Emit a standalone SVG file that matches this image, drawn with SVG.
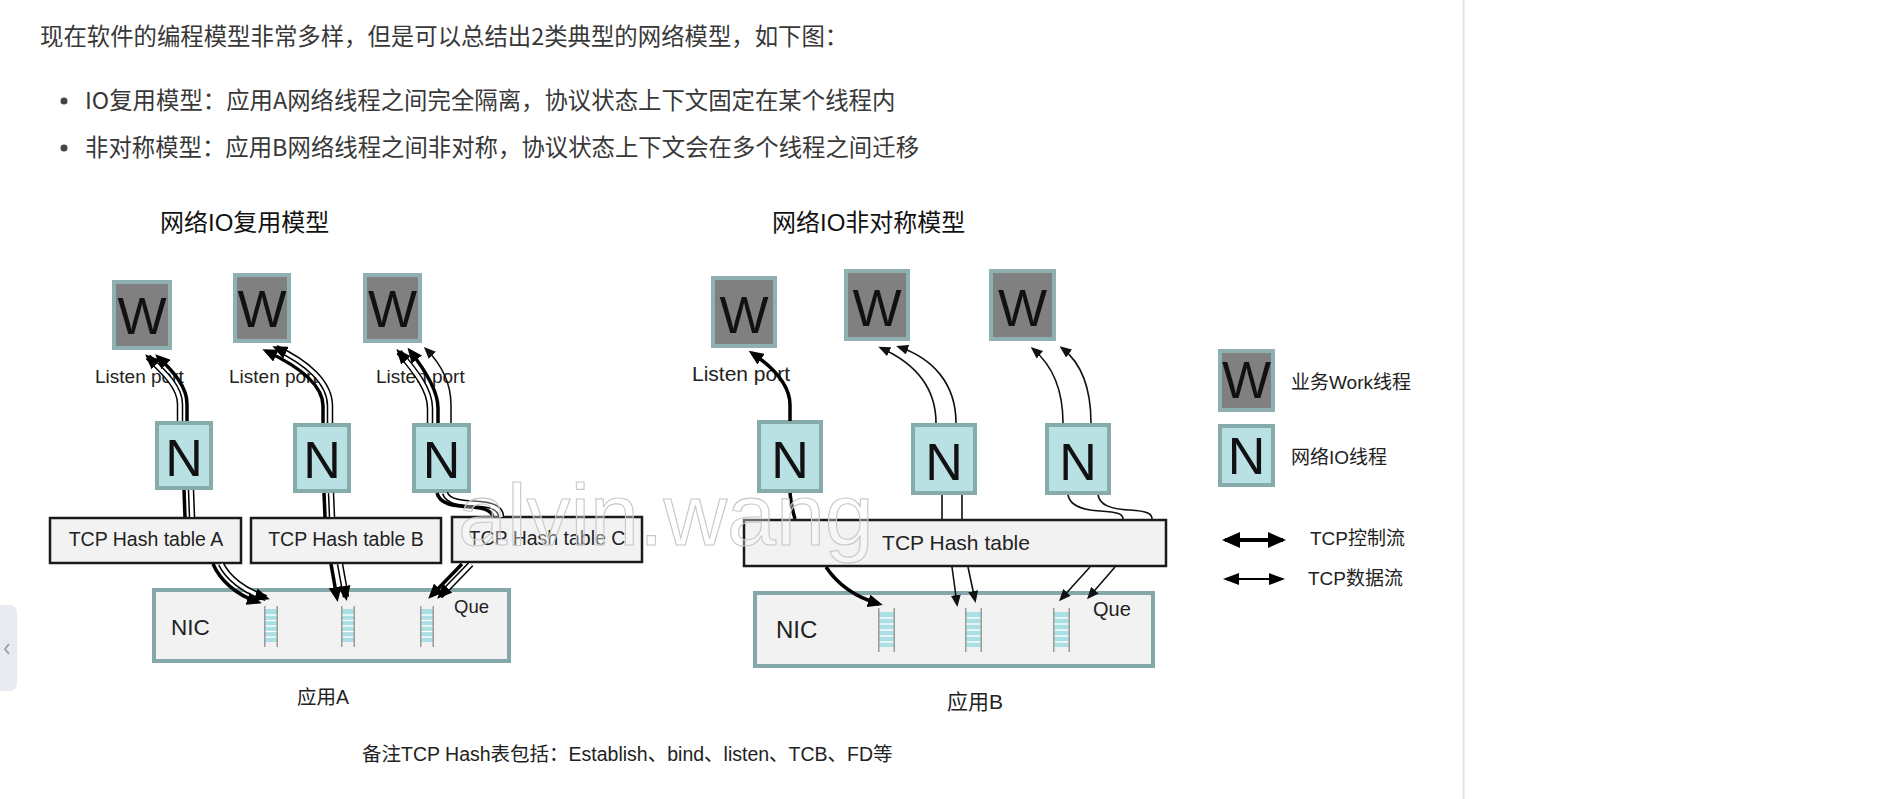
<svg xmlns="http://www.w3.org/2000/svg" xmlns:xlink="http://www.w3.org/1999/xlink" width="1878" height="799" viewBox="0 0 1878 799">
<style>
.body{font-family:'Noto Sans CJK SC','Liberation Sans',sans-serif;font-size:23.4px;fill:#383838}
.ttl{font-family:'Liberation Sans','Noto Sans CJK SC',sans-serif;font-size:24px;fill:#111}
.lbl{font-family:'Liberation Sans','Noto Sans CJK SC',sans-serif;fill:#222}
.wbox{fill:#808080;stroke:#8fb0b0;stroke-width:4}
.nbox{fill:#b9e1e4;stroke:#86abab;stroke-width:4}
.big{font-family:'Liberation Sans',sans-serif;font-size:52px;fill:#111;text-anchor:middle}
.hash{fill:#f2f2f2;stroke:#1a1a1a;stroke-width:2.5}
.nic{fill:#f2f2f2;stroke:#84a8a9;stroke-width:4}
.T{fill:none;stroke:#000;stroke-width:3.5;marker-end:url(#ahT)}
.T0{fill:none;stroke:#000;stroke-width:3.5}
.t{fill:none;stroke:#111;stroke-width:1.6;marker-end:url(#aht)}
.t0{fill:none;stroke:#111;stroke-width:1.6}
.hb{fill:none;stroke:#000;stroke-width:6.5}
.hw{fill:none;stroke:#fff;stroke-width:3.5}
.hm{fill:none;stroke:none;marker-end:url(#ahT)}
.rail{stroke:#9a9a9a;stroke-width:1.5}
.sep{stroke:#fff;stroke-width:1.4}
.wm{font-family:'Liberation Sans',sans-serif;font-size:88px;fill:#fff;fill-opacity:0.35;stroke:#c8c8c8;stroke-width:1.1}
</style>
<defs>
<marker id="ahT" markerUnits="userSpaceOnUse" markerWidth="15" markerHeight="13" refX="11" refY="6.5" orient="auto"><path d="M0,0 L15,6.5 L0,13 z" fill="#000"/></marker>
<marker id="aht" markerUnits="userSpaceOnUse" markerWidth="12" markerHeight="10" refX="9" refY="5" orient="auto"><path d="M0,0 L12,5 L0,10 z" fill="#111"/></marker>
<marker id="lgT" markerUnits="userSpaceOnUse" markerWidth="18" markerHeight="16" refX="15" refY="8" orient="auto-start-reverse"><path d="M0,0 L18,8 L0,16 z" fill="#000"/></marker>
<marker id="lgt" markerUnits="userSpaceOnUse" markerWidth="16" markerHeight="12" refX="14" refY="6" orient="auto-start-reverse"><path d="M0,0 L16,6 L0,12 z" fill="#000"/></marker>
<g id="qA">
<rect x="1" y="3" width="12" height="33" fill="#aadfe3"/>
<line class="sep" x1="1" y1="9" x2="13" y2="9"/><line class="sep" x1="1" y1="14.5" x2="13" y2="14.5"/><line class="sep" x1="1" y1="20" x2="13" y2="20"/><line class="sep" x1="1" y1="25.5" x2="13" y2="25.5"/><line class="sep" x1="1" y1="31" x2="13" y2="31"/>
<line class="rail" x1="0.75" y1="0" x2="0.75" y2="41"/><line class="rail" x1="13.25" y1="0" x2="13.25" y2="41"/>
</g>
<g id="qB">
<rect x="1" y="4" width="15" height="35" fill="#aadfe3"/>
<line class="sep" x1="1" y1="10" x2="16" y2="10"/><line class="sep" x1="1" y1="16" x2="16" y2="16"/><line class="sep" x1="1" y1="22" x2="16" y2="22"/><line class="sep" x1="1" y1="28" x2="16" y2="28"/><line class="sep" x1="1" y1="34" x2="16" y2="34"/>
<line class="rail" x1="0.75" y1="0" x2="0.75" y2="44"/><line class="rail" x1="16.25" y1="0" x2="16.25" y2="44"/>
</g>
</defs>
<rect x="0" y="0" width="1878" height="799" fill="#fff"/>
<line x1="1463.5" y1="0" x2="1463.5" y2="799" stroke="#e4e4e4" stroke-width="2"/>
<g id="sidetab">
<path d="M0,605 L9,605 Q17,605 17,613 L17,683 Q17,691 9,691 L0,691 z" fill="#e7ebf0"/>
<polyline points="9,644 5,649 9,654" fill="none" stroke="#9aa3ad" stroke-width="2"/>
</g>
<g id="intro">
<text class="body" x="40" y="45">现在软件的编程模型非常多样，但是可以总结出2类典型的网络模型，如下图：</text>
<circle cx="64" cy="101" r="3.5" fill="#444"/>
<text class="body" x="85" y="108.5">IO复用模型：应用A网络线程之间完全隔离，协议状态上下文固定在某个线程内</text>
<circle cx="64" cy="148" r="3.5" fill="#444"/>
<text class="body" x="85" y="156">非对称模型：应用B网络线程之间非对称，协议状态上下文会在多个线程之间迁移</text>
</g>
<g id="titles">
<text class="ttl" x="160" y="231">网络IO复用模型</text>
<text class="ttl" x="772" y="231">网络IO非对称模型</text>
</g>
<g id="labels">
<text class="lbl" x="95" y="383" font-size="19">Listen port</text>
<text class="lbl" x="229" y="383" font-size="19">Listen port</text>
<text class="lbl" x="376" y="383" font-size="19">Listen port</text>
<text class="lbl" x="692" y="381" font-size="21">Listen port</text>
</g>
<g id="hashA"><rect class="hash" x="50" y="518" width="191" height="45"/><text class="lbl" x="146" y="546" font-size="19.5" text-anchor="middle">TCP Hash table A</text></g>
<g id="hashB"><rect class="hash" x="251" y="518" width="190" height="45"/><text class="lbl" x="346" y="546" font-size="19.5" text-anchor="middle">TCP Hash table B</text></g>
<g id="hashC"><rect class="hash" x="452" y="517" width="190" height="45"/><text class="lbl" x="547" y="545" font-size="19.5" text-anchor="middle">TCP Hash table C</text></g>
<g id="hashBig"><rect class="hash" x="744" y="520" width="422" height="46"/><text class="lbl" x="956" y="550" font-size="21" text-anchor="middle">TCP Hash table</text></g>
<g id="nicA">
<rect class="nic" x="154" y="590" width="355" height="71"/>
<text class="lbl" x="171" y="635" font-size="22.5">NIC</text>
<text class="lbl" x="454" y="613" font-size="18.5">Que</text>
<use xlink:href="#qA" href="#qA" x="264" y="606"/>
<use xlink:href="#qA" href="#qA" x="341" y="606"/>
<use xlink:href="#qA" href="#qA" x="420" y="606"/>
</g>
<g id="nicB">
<rect class="nic" x="755" y="593" width="398" height="73"/>
<text class="lbl" x="776" y="638" font-size="24">NIC</text>
<text class="lbl" x="1093" y="616" font-size="20">Que</text>
<use xlink:href="#qB" href="#qB" x="878" y="608"/>
<use xlink:href="#qB" href="#qB" x="965" y="608"/>
<use xlink:href="#qB" href="#qB" x="1053" y="608"/>
</g>
<g id="W1"><rect class="wbox" x="114" y="282" width="56" height="66"/><text class="big" x="142" y="334">W</text></g>
<g id="W2"><rect class="wbox" x="235" y="275" width="54" height="66"/><text class="big" x="262" y="327">W</text></g>
<g id="W3"><rect class="wbox" x="365" y="275" width="55" height="66"/><text class="big" x="392.5" y="327">W</text></g>
<g id="N1"><rect class="nbox" x="157" y="423" width="54" height="65"/><text class="big" x="184" y="476">N</text></g>
<g id="N2"><rect class="nbox" x="295" y="425" width="54" height="66"/><text class="big" x="322" y="478">N</text></g>
<g id="N3"><rect class="nbox" x="414" y="425" width="55" height="66"/><text class="big" x="441.5" y="478">N</text></g>
<g id="WB1"><rect class="wbox" x="713" y="278" width="62" height="68"/><text class="big" x="744" y="333">W</text></g>
<g id="WB2"><rect class="wbox" x="846" y="271" width="62" height="68"/><text class="big" x="877" y="326">W</text></g>
<g id="WB3"><rect class="wbox" x="991" y="271" width="63" height="68"/><text class="big" x="1022.5" y="326">W</text></g>
<g id="NB1"><rect class="nbox" x="759" y="422" width="62" height="69"/><text class="big" x="790" y="478">N</text></g>
<g id="NB2"><rect class="nbox" x="913" y="425" width="62" height="68"/><text class="big" x="944" y="480">N</text></g>
<g id="NB3"><rect class="nbox" x="1047" y="425" width="62" height="68"/><text class="big" x="1078" y="480">N</text></g>
<g id="captions">
<text class="lbl" x="297" y="704" font-size="19.5">应用A</text>
<text class="lbl" x="947" y="709" font-size="21">应用B</text>
<text class="lbl" x="362" y="761" font-size="19.5">备注TCP Hash表包括：Establish、bind、listen、TCB、FD等</text>
</g>
<g id="legend">
<g id="legW"><rect class="wbox" x="1220" y="351" width="53" height="59"/><text class="big" x="1246.5" y="398" font-size="48">W</text></g>
<text class="lbl" x="1291" y="389" font-size="19">业务Work线程</text>
<g id="legN"><rect class="nbox" x="1220" y="426" width="53" height="59"/><text class="big" x="1246.5" y="474" font-size="48">N</text></g>
<text class="lbl" x="1291" y="464" font-size="19">网络IO线程</text>
<line x1="1225" y1="540" x2="1283" y2="540" stroke="#000" stroke-width="4" marker-start="url(#lgT)" marker-end="url(#lgT)"/>
<text class="lbl" x="1310" y="545" font-size="19">TCP控制流</text>
<line x1="1225" y1="579" x2="1283" y2="579" stroke="#000" stroke-width="2" marker-start="url(#lgt)" marker-end="url(#lgt)"/>
<text class="lbl" x="1308" y="585" font-size="19">TCP数据流</text>
</g>
<g id="connectors">
<g class="hb">
<path d="M180 421 L180 404 C180 388 166 374 148 357"/>
<path d="M191 490 L192 517"/>
<path d="M221 564 C228 578 244 591 266 598"/>
<path d="M330 423 L330 406 C330 382 306 362 276 348"/>
<path d="M331 493 L332 517"/>
<path d="M340 564 L346 597"/>
<path d="M430 423 L430 408 C430 390 416 372 399 352"/>
<path d="M445 493 C448 502 460 503 480 504 C494 505 501 509 501 517"/>
<path d="M471 564 L440 596"/>
</g>
<g class="hw">
<path d="M180 421 L180 404 C180 388 166 374 148 357"/>
<path d="M191 490 L192 517"/>
<path d="M221 564 C228 578 244 591 266 598"/>
<path d="M330 423 L330 406 C330 382 306 362 276 348"/>
<path d="M331 493 L332 517"/>
<path d="M340 564 L346 597"/>
<path d="M430 423 L430 408 C430 390 416 372 399 352"/>
<path d="M445 493 C448 502 460 503 480 504 C494 505 501 509 501 517"/>
<path d="M471 564 L440 596"/>
</g>
<g class="hm">
<path d="M180 421 L180 404 C180 388 166 374 148 357"/>
<path d="M221 564 C228 578 244 591 266 598"/>
<path d="M330 423 L330 406 C330 382 306 362 276 348"/>
<path d="M340 564 L346 597"/>
<path d="M430 423 L430 408 C430 390 416 372 399 352"/>
<path d="M471 564 L440 596"/>
</g>
<path class="T" d="M187 421 L187 404 C187 387 174 372 158 357"/>
<path class="T0" d="M184 490 L185 517"/>
<path class="T" d="M213 564 C220 580 236 595 258 602"/>
<path class="T" d="M323 423 L323 406 C323 384 298 366 266 351"/>
<path class="T0" d="M324 493 L325 517"/>
<path class="T" d="M331 564 L337 598"/>
<path class="T" d="M438 423 L438 408 C438 390 425 370 410 351"/>
<path class="T0" d="M437 493 C440 504 452 506 472 507 C486 508 492 511 493 517"/>
<path class="T" d="M462 564 L431 596"/>
<path class="t" d="M451 423 L451 405 C451 385 442 365 426 349"/>
<path class="T" d="M790 421 L790 405 C790 386 774 368 752 353"/>
<path class="T0" d="M790 493 C791 505 793 512 795 519"/>
<path class="T" d="M826 567 C838 585 855 597 879 604"/>
<path class="t" d="M936 423 C936 385 912 362 881 348"/>
<path class="t" d="M956 423 C956 383 932 358 899 347"/>
<path class="t0" d="M942 495 L942 519"/>
<path class="t0" d="M962 495 L962 519"/>
<path class="t" d="M952 567 L957 604"/>
<path class="t" d="M968 567 L975 600"/>
<path class="t" d="M1063 423 C1063 388 1052 365 1033 349"/>
<path class="t" d="M1091 423 C1091 385 1080 362 1062 348"/>
<path class="t0" d="M1068 495 C1070 505 1080 510 1100 511 C1118 512 1123 514 1123 519"/>
<path class="t0" d="M1098 495 C1100 505 1110 509 1130 510 C1148 511 1152 514 1152 519"/>
<path class="t" d="M1090 567 L1061 599"/>
<path class="t" d="M1115 567 L1089 597"/>
</g>
<text class="wm" x="458" y="545">alvin.wang</text>
</svg>
